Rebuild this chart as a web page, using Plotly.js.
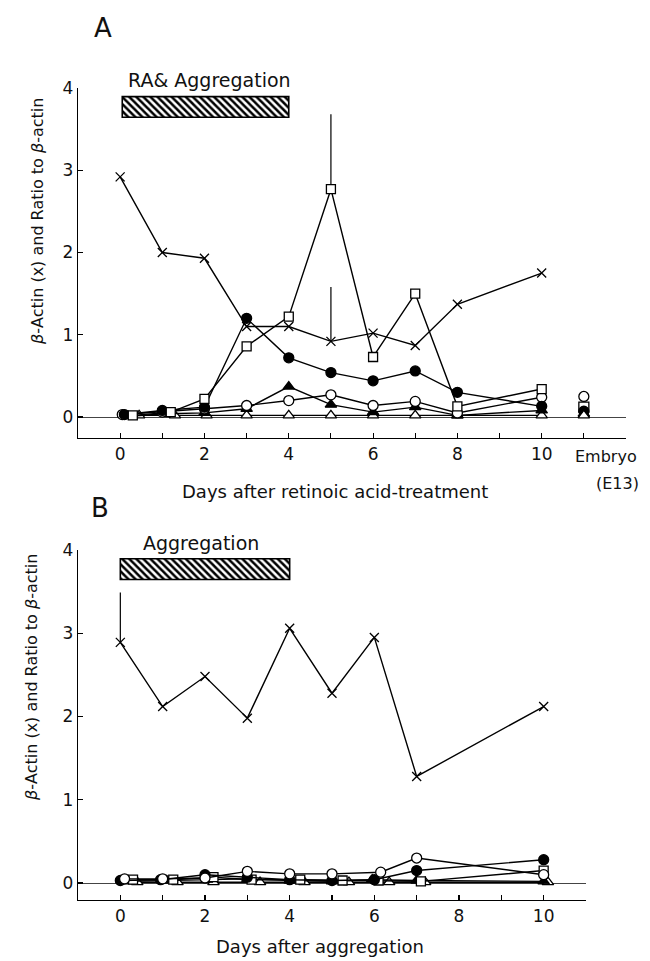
<!DOCTYPE html>
<html><head><meta charset="utf-8">
<script src="https://cdn.plot.ly/plotly-3.0.1.min.js"></script>
<style>body{margin:0;background:#fff}#chart{width:650px;height:961px}</style>
</head><body><div id="chart"></div><script>
// ---------- Panel A: days after retinoic acid treatment ----------
const tickDaysA = [0,1,2,3,4,5,6,7,8,9,10,11,12];
const tickTextA = ['0','','2','','4','','6','','8','','10','',''];
const crossA_x = [0,1,2,3,4,5,6,7,8,10];
const crossA   = [2.92,2.0,1.93,1.1,1.1,0.92,1.02,0.87,1.37,1.75];
const crossA_err = [0,0,0,0,0,0.66,0,0,0,0];
const sqA_x = [0.3,1.2,2,3,4,5,6,7,8,10];
const sqA   = [0.02,0.06,0.22,0.86,1.22,2.77,0.73,1.5,0.13,0.34];
const sqA_err = [0,0,0,0,0,0.91,0,0,0,0];
const fcA_x = [0.1,1,2,3,4,5,6,7,8,10];
const fcA   = [0.03,0.08,0.12,1.2,0.72,0.54,0.44,0.56,0.3,0.13];
const ocA_x = [0.05,1,2,3,4,5,6,7,8,10];
const ocA   = [0.03,0.06,0.1,0.14,0.2,0.27,0.14,0.19,0.05,0.24];
const ftA_x = [0.2,1.1,2,3,4,5,6,7,8,10];
const ftA   = [0.01,0.04,0.05,0.1,0.37,0.15,0.06,0.12,0.02,0.08];
const otA_x = [0.45,1.3,2.05,3,4,5,6,7,8,10];
const otA   = [0.02,0.02,0.02,0.02,0.02,0.02,0.02,0.02,0.02,0.02];
// Embryo (E13) reference values
const embryoDay = 11;
const embryo_oc = 0.25, embryo_sq = 0.12, embryo_fc = 0.07, embryo_ft = 0.04, embryo_ot = 0.02;
const treatA = {label:'RA& Aggregation', start:0.05, length:3.95};

// ---------- Panel B: days after aggregation ----------
const tickDaysB = [0,1,2,3,4,5,6,7,8,9,10,11];
const tickTextB = ['0','','2','','4','','6','','8','','10',''];
const crossB_x = [0,1,2,3,4,5,6,7,10];
const crossB   = [2.89,2.12,2.48,1.98,3.06,2.28,2.95,1.28,2.12];
const crossB_err = [0.6,0,0,0,0,0,0,0,0];
const ocB_x = [0.1,1,2,3,4,5,6.15,7,10];
const ocB   = [0.05,0.05,0.06,0.14,0.11,0.11,0.13,0.3,0.1];
const fcB_x = [0,0.95,2,3,4,5,6,7,10];
const fcB   = [0.03,0.04,0.1,0.07,0.04,0.03,0.04,0.15,0.28];
const sqB_x = [0.3,1.25,2.2,3.1,4.25,5.25,6.1,7.1,10];
const sqB   = [0.04,0.04,0.07,0.04,0.04,0.03,0.03,0.02,0.15];
const ftB_x = [0.2,1.1,2.05,3,4,5,5.95,7,10];
const ftB   = [0.02,0.03,0.04,0.05,0.03,0.02,0.04,0.03,0.02];
const otB_x = [0.4,1.35,2.2,3.3,4.35,5.4,6.35,7.2,10.1];
const otB   = [0.01,0.01,0.01,0.01,0.01,0.01,0.01,0.01,0.01];
const treatB = {label:'Aggregation', start:0, length:4};

const FONT = 'DejaVu Sans';
const LW = 1.4;
function series(x, y, sym, fill, xa, ya, err, size) {
  const t = {x:x, y:y, xaxis:xa, yaxis:ya, type:'scatter', mode:'lines+markers',
    line:{color:'black', width:LW},
    marker:{symbol:sym, size:size||10, color:fill, line:{color:'black', width:1.3}},
    cliponaxis:false, hoverinfo:'skip'};
  if (err) t.error_y = {type:'data', symmetric:false, array:err, arrayminus:err.map(()=>0), color:'black', thickness:1.2, width:0};
  return t;
}
function embryoPt(v, sym, fill) {
  return {x:[embryoDay], y:[v], xaxis:'x', yaxis:'y', type:'scatter', mode:'markers',
    marker:{symbol:sym, size:10, color:fill, line:{color:'black', width:1.3}}, cliponaxis:false, hoverinfo:'skip'};
}
function treatBar(t, xa, ya) {
  return {type:'bar', orientation:'h', x:[t.length], base:[t.start], y:[3.77], width:0.25,
    xaxis:xa, yaxis:ya, hoverinfo:'skip',
    marker:{color:'white', line:{color:'black', width:1.6},
      pattern:{shape:'\\', fgcolor:'black', bgcolor:'white', size:5, solidity:0.5}}};
}

const data = [
  treatBar(treatA,'x','y'),
  series(otA_x, otA, 'triangle-up', 'white', 'x','y'),
  series(ftA_x, ftA, 'triangle-up', 'black', 'x','y'),
  series(ocA_x, ocA, 'circle', 'white', 'x','y'),
  series(fcA_x, fcA, 'circle', 'black', 'x','y'),
  series(sqA_x, sqA, 'square', 'white', 'x','y', sqA_err, 9),
  series(crossA_x, crossA, 'x-thin-open', 'black', 'x','y', crossA_err, 9),
  embryoPt(embryo_oc,'circle','white'),
  embryoPt(embryo_sq,'square','white'),
  embryoPt(embryo_fc,'circle','black'),
  embryoPt(embryo_ft,'triangle-up','black'),
  embryoPt(embryo_ot,'triangle-up','white'),
  treatBar(treatB,'x2','y2'),
  series(otB_x, otB, 'triangle-up', 'white', 'x2','y2'),
  series(ftB_x, ftB, 'triangle-up', 'black', 'x2','y2'),
  series(sqB_x, sqB, 'square', 'white', 'x2','y2', null, 9),
  series(fcB_x, fcB, 'circle', 'black', 'x2','y2'),
  series(ocB_x, ocB, 'circle', 'white', 'x2','y2'),
  series(crossB_x, crossB, 'x-thin-open', 'black', 'x2','y2', crossB_err, 9)
];

const axisCommon = {showline:true, linecolor:'black', linewidth:1.3, ticks:'inside', ticklen:5,
  tickcolor:'black', tickwidth:1.1, showgrid:false, fixedrange:true,
  tickfont:{family:FONT, size:17, color:'#111'}};

// pixel helpers -> paper coordinates (plot area: x 78..626, y 88..900)
const L=78, R=24, T=88, B=61, W=650, H=961;
const px = v => (v - L)/(W-L-R);
const py = v => (H-B - v)/(H-T-B);
function label(x, y, text, size, angle) {
  return {xref:'paper', yref:'paper', x:px(x), y:py(y), text:text, showarrow:false,
    xanchor:'center', yanchor:'middle', textangle:angle||0, font:{family:FONT, size:size, color:'#111'}};
}

const yTitle = '<i>β</i>-Actin (x) and Ratio to <i>β</i>-actin';
const layout = {
  width:W, height:H, margin:{l:L, r:R, t:T, b:B},
  paper_bgcolor:'white', plot_bgcolor:'white', showlegend:false, bargap:0,
  font:{family:FONT, color:'#111'},
  xaxis: Object.assign({}, axisCommon, {domain:[0,1], range:[-1,12], anchor:'y',
    tickmode:'array', tickvals:tickDaysA, ticktext:tickTextA, zeroline:false}),
  yaxis: Object.assign({}, axisCommon, {domain:[py(438), py(88)], range:[-0.255,4], anchor:'x',
    tickvals:[0,1,2,3,4], zeroline:true, zerolinecolor:'#444', zerolinewidth:1}),
  xaxis2: Object.assign({}, axisCommon, {domain:[0, px(586)], range:[-1,11], anchor:'y2',
    tickmode:'array', tickvals:tickDaysB, ticktext:tickTextB, zeroline:false}),
  yaxis2: Object.assign({}, axisCommon, {domain:[py(900), py(550)], range:[-0.204,4], anchor:'x2',
    tickvals:[0,1,2,3,4], zeroline:true, zerolinecolor:'#444', zerolinewidth:1}),
  annotations: [
    label(103, 28, 'A', 26),
    label(100, 508, 'B', 26),
    label(209, 80, treatA.label, 19),
    label(201, 543, treatB.label, 19),
    label(335, 491, 'Days after retinoic acid-treatment', 18),
    label(320, 946, 'Days after aggregation', 18),
    label(606, 456, 'Embryo', 16),
    label(617, 483, '(E13)', 16),
    label(38, 222, yTitle, 16, -90),
    label(31, 678, yTitle, 16, -90)
  ]
};
Plotly.newPlot('chart', data, layout, {staticPlot:true, displayModeBar:false});
</script></body></html>
